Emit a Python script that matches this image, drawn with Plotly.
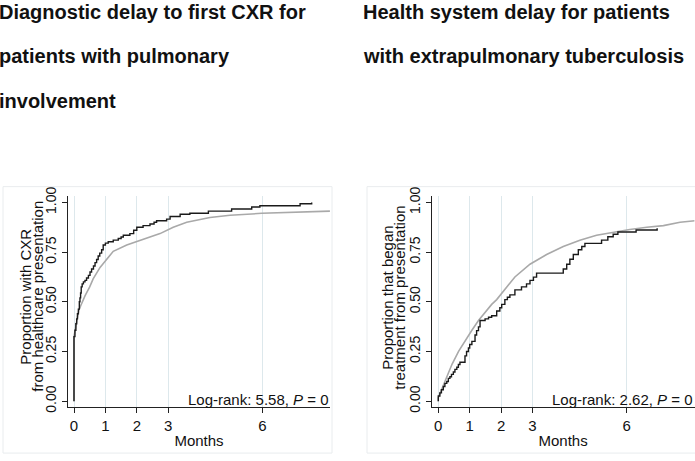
import plotly.graph_objects as go

W, H = 695, 461

# ---------------- data ----------------
months_ticks = [0, 1, 2, 3, 6]
month_tick_labels = ["0", "1", "2", "3", "6"]
prop_ticks = [0, 0.25, 0.5, 0.75, 1.0]
prop_tick_labels = ["0.00", "0.25", "0.50", "0.75", "1.00"]

# Left panel: black step curve (pulmonary involvement)
pulm_t = [0, 0.0, 0.03, 0.06, 0.085, 0.11, 0.14, 0.17, 0.19, 0.21, 0.23, 0.26, 0.30, 0.35, 0.40,
          0.46, 0.51, 0.56, 0.62, 0.67, 0.72, 0.77, 0.82, 0.88, 0.93, 1.0, 1.09, 1.25, 1.41, 1.5,
          1.57, 1.78, 1.9, 2.0, 2.2, 2.42, 2.55, 2.63, 2.95, 3.06, 3.38, 3.69, 4.28, 5.02, 5.66,
          5.92, 7.2, 7.57]
pulm_p = [0, 0.325, 0.357, 0.39, 0.414, 0.44, 0.463, 0.50, 0.52, 0.544, 0.575, 0.59, 0.60, 0.608, 0.62,
          0.633, 0.65, 0.665, 0.68, 0.697, 0.713, 0.73, 0.745, 0.762, 0.786, 0.795, 0.802, 0.81, 0.818, 0.826,
          0.835, 0.843, 0.86, 0.875, 0.883, 0.891, 0.9, 0.908, 0.916, 0.929, 0.94, 0.945, 0.956, 0.967, 0.977,
          0.983, 0.993, 1.0]
# Left panel: grey comparison curve
pulm_ref_t = [0, 0.0, 0.05, 0.1, 0.15, 0.21, 0.35, 0.5, 0.61, 0.83, 1.04, 1.25, 1.68, 2.1, 2.74, 3.16,
              3.59, 4.33, 4.97, 5.98, 6.88, 8.15]
pulm_ref_p = [0, 0.325, 0.37, 0.42, 0.455, 0.479, 0.53, 0.575, 0.615, 0.673, 0.714, 0.754, 0.786, 0.81,
              0.843, 0.875, 0.9, 0.924, 0.935, 0.945, 0.951, 0.956]

# Right panel: black step curve (extrapulmonary TB)
extra_t = [0, 0.0, 0.05, 0.10, 0.16, 0.21, 0.27, 0.32, 0.37, 0.42, 0.48, 0.53, 0.59, 0.64, 0.69, 0.85,
           0.9, 0.96, 1.0, 1.07, 1.17, 1.22, 1.28, 1.33, 1.49, 1.60, 1.70, 1.86, 1.96, 2.02, 2.12, 2.2,
           2.28, 2.44, 2.65, 2.81, 2.92, 3.03, 3.13, 3.98, 4.09, 4.19, 4.3, 4.46, 4.57, 4.67, 5.2, 5.4,
           5.57, 5.72, 6.3, 6.97, 6.97]
extra_p = [0, 0.026, 0.042, 0.058, 0.074, 0.09, 0.099, 0.115, 0.123, 0.135, 0.147, 0.16, 0.171, 0.185, 0.196, 0.228,
           0.25, 0.268, 0.285, 0.301, 0.333, 0.355, 0.374, 0.406, 0.414, 0.422, 0.43, 0.454, 0.47, 0.487, 0.511, 0.523,
           0.535, 0.56, 0.575, 0.59, 0.608, 0.624, 0.644, 0.665, 0.689, 0.714, 0.738, 0.762, 0.778, 0.794, 0.81, 0.827,
           0.84, 0.851, 0.861, 0.861, 0.87]
# Right panel: grey comparison curve
extra_ref_t = [0, 0.0, 0.23, 0.44, 0.65, 0.87, 1.07, 1.28, 1.49, 1.70, 1.86, 2.02, 2.44, 2.92, 3.45, 3.98,
               4.51, 5.04, 5.58, 6.1, 6.64, 7.17, 7.7, 8.17]
extra_ref_p = [0, 0.018, 0.107, 0.187, 0.252, 0.309, 0.357, 0.406, 0.447, 0.487, 0.511, 0.544, 0.625, 0.689,
               0.738, 0.778, 0.81, 0.835, 0.851, 0.864, 0.875, 0.883, 0.9, 0.908]

title_left = ["Diagnostic delay to first CXR for", "patients with pulmonary", "involvement"]
title_right = ["Health system delay for patients", "with extrapulmonary tuberculosis"]
ytitle_left = ["Proportion with CXR", "from healthcare presentation"]
ytitle_right = ["Proportion that began", "treatment from presentation"]
logrank_left = "Log-rank: 5.58, <i>P</i> = 0"
logrank_right = "Log-rank: 2.62, <i>P</i> = 0"

# ---------------- figure ----------------
FONT = "Liberation Sans, Arial, Helvetica, sans-serif"
BLACK = "#1a1a1a"
GREY = "#a9a9a9"
GRID = "#dde8ec"

def px(x):
    return x / W

def py(y):
    return 1 - y / H

fig = go.Figure()

fig.add_trace(go.Scatter(x=pulm_ref_t, y=pulm_ref_p, mode="lines", line=dict(color=GREY, width=1.6),
                         xaxis="x", yaxis="y", showlegend=False))
fig.add_trace(go.Scatter(x=pulm_t, y=pulm_p, mode="lines", line=dict(color=BLACK, width=1.4, shape="hv"),
                         xaxis="x", yaxis="y", showlegend=False))
fig.add_trace(go.Scatter(x=extra_ref_t, y=extra_ref_p, mode="lines", line=dict(color=GREY, width=1.6),
                         xaxis="x2", yaxis="y2", showlegend=False))
fig.add_trace(go.Scatter(x=extra_t, y=extra_p, mode="lines", line=dict(color=BLACK, width=1.4, shape="hv"),
                         xaxis="x2", yaxis="y2", showlegend=False))

ydom = [py(411), py(193)]
common_x = dict(tickvals=months_ticks, ticktext=month_tick_labels, showline=True, linecolor="#222",
                linewidth=1, ticks="outside", ticklen=5, tickcolor="#222", showgrid=True,
                gridcolor=GRID, gridwidth=1, zeroline=False, tickfont=dict(size=15, color="#111"),
                title=dict(text="Months", font=dict(size=15, color="#111"), standoff=2))
common_y = dict(range=[-0.0277, 1.0306], tickvals=prop_ticks, ticktext=prop_tick_labels, tickangle=-90,
                showline=True, linecolor="#222", linewidth=1, ticks="outside", ticklen=5, tickcolor="#222",
                showgrid=False, zeroline=False, tickfont=dict(size=14, color="#111"), domain=ydom)

fig.update_layout(
    width=W, height=H, margin=dict(l=0, r=0, t=0, b=0),
    paper_bgcolor="white", plot_bgcolor="white",
    font=dict(family=FONT, color="#111"),
    xaxis=dict(domain=[px(68), px(330)], range=[-0.191, 8.153], anchor="y", **common_x),
    yaxis=dict(anchor="x", **common_y),
    xaxis2=dict(domain=[px(431.7), px(694.5)], range=[-0.21, 8.16], anchor="y2", **common_x),
    yaxis2=dict(anchor="x2", **common_y),
)

ann = []
for i, line in enumerate(title_left):
    ann.append(dict(text="<b>" + line + "</b>", x=px(-3), y=py(2 + 46 * i), xref="paper", yref="paper",
                    xanchor="left", yanchor="middle", showarrow=False,
                    font=dict(size=20, color="#111", family=FONT)))
for i, line in enumerate(title_right):
    ann.append(dict(text="<b>" + line + "</b>", x=px(361), y=py(2 + 46 * i), xref="paper", yref="paper",
                    xanchor="left", yanchor="middle", showarrow=False,
                    font=dict(size=20, color="#111", family=FONT)))
for txt, xc in zip(ytitle_left, [26, 38]):
    ann.append(dict(text=txt, x=px(xc), y=py(297), xref="paper", yref="paper", xanchor="center",
                    yanchor="middle", textangle=-90, showarrow=False, font=dict(size=15, color="#111")))
for txt, xc in zip(ytitle_right, [388, 400]):
    ann.append(dict(text=txt, x=px(xc), y=py(298), xref="paper", yref="paper", xanchor="center",
                    yanchor="middle", textangle=-90, showarrow=False, font=dict(size=15, color="#111")))
ann.append(dict(text=logrank_left, x=px(331), y=py(404), xref="paper", yref="paper", xanchor="right",
                yanchor="middle", showarrow=False, font=dict(size=15, color="#111")))
ann.append(dict(text=logrank_right, x=px(695), y=py(404), xref="paper", yref="paper", xanchor="right",
                yanchor="middle", showarrow=False, font=dict(size=15, color="#111")))
fig.update_layout(annotations=ann)

# faint graph-region outlines
fig.add_shape(type="rect", xref="paper", yref="paper", x0=px(3), x1=px(332), y0=py(459), y1=py(183),
              line=dict(color="#e9ecee", width=1), layer="below")
fig.add_shape(type="rect", xref="paper", yref="paper", x0=px(367), x1=px(700), y0=py(459), y1=py(183),
              line=dict(color="#e9ecee", width=1), layer="below")

fig.write_html("out.html", config={"displayModeBar": False},
               post_script="document.body.style.margin='0';document.body.style.overflow='hidden';")
